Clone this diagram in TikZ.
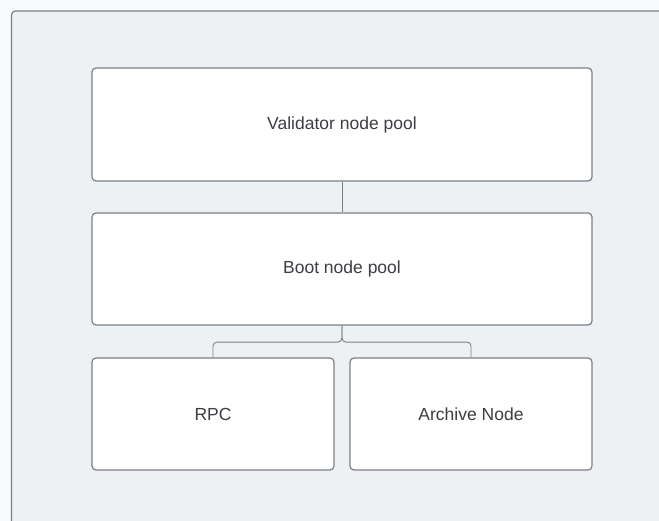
\documentclass[tikz,border=0pt]{standalone}
\usepackage{fontspec}
\setmainfont{Liberation Sans}
\usetikzlibrary{calc}
\definecolor{pagebg}{HTML}{F9FAFB}
\definecolor{panelbg}{HTML}{EEF1F3}
\definecolor{edge}{HTML}{7C8085}
\definecolor{label}{HTML}{3B3E42}
\begin{document}
\begin{tikzpicture}[x=1pt,y=-1pt,
  box/.style={draw=edge,line width=1.2pt,fill=white,rounded corners=4pt,
    inner sep=0pt,font=\fontsize{17.5}{21}\selectfont,text=label},
  link/.style={draw=edge,line width=0.9pt,rounded corners=4pt}]
  % page and panel
  \fill[pagebg] (0,0) rectangle (659,521);
  \useasboundingbox (0,0) rectangle (659,521);
  \begin{scope}
    \clip (0,0) rectangle (659,521);
    \draw[draw=edge,line width=1.2pt,fill=panelbg,rounded corners=4pt] (11.5,11) rectangle (680,540);
  \end{scope}
  % pools and nodes
  \node[box,minimum width=500pt,minimum height=113pt] (val) at (342,124.5) {Validator node pool};
  \node[box,minimum width=500pt,minimum height=112pt] (boot) at (342,269) {Boot node pool};
  \node[box,minimum width=242pt,minimum height=112pt] (rpc) at (213,414) {RPC};
  \node[box,minimum width=242pt,minimum height=112pt] (arch) at (471,414) {Archive Node};
  % connectors: one line between the pools, a fork below the boot pool
  \draw[link] (val.south) -- (boot.north);
  \coordinate (split) at ($(boot.south)+(0,16.5)$);
  \draw[link] (boot.south) -- (split) -| (rpc.north);
  \draw[link] (boot.south) -- (split) -| (arch.north);
\end{tikzpicture}
\end{document}
